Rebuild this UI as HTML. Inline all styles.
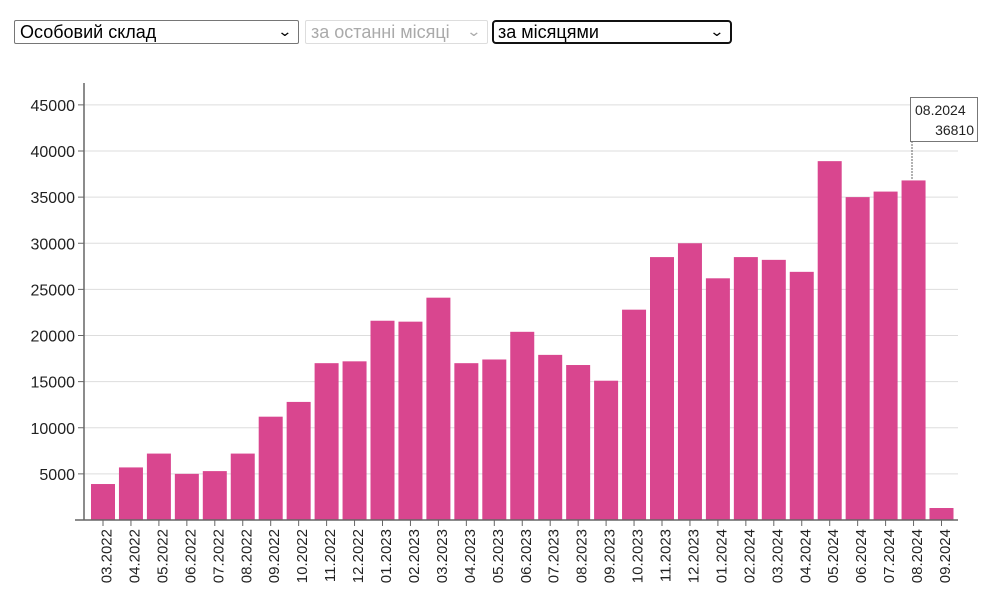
<!DOCTYPE html>
<html><head><meta charset="utf-8"><style>
body{margin:0;width:1000px;height:600px;background:#fff;font-family:"Liberation Sans",sans-serif;overflow:hidden;position:relative}
.sel{position:absolute;top:20px;height:24px;box-sizing:border-box;border:1px solid #767676;border-radius:2px;font-size:18px;line-height:22px;padding-left:5px;color:#000;background:#fff}
.sel span.a{position:absolute;right:7px;top:-1px;font-size:14px;transform:scaleX(1.3)}
</style></head><body>
<div class="sel" style="left:14px;width:285px">Особовий склад<span class="a">&#8964;</span></div>
<div class="sel" style="left:305px;width:183px;color:#aaa;border-color:#ddd">за останні місяці<span class="a">&#8964;</span></div>
<div class="sel" style="left:492px;width:240px;border:2px solid #111;border-radius:4px;line-height:20px;padding-left:4px">за місяцями<span class="a">&#8964;</span></div>
<svg width="1000" height="600" style="position:absolute;left:0;top:0" font-family="Liberation Sans, sans-serif">
<g id="g"></g>
</svg>
<script>
var v=[3900,5700,7200,5000,5300,7200,11200,12800,17000,17200,21600,21500,24100,17000,17400,20400,17900,16800,15100,22800,28500,30000,26200,28500,28200,26900,38900,35000,35600,36810,1300];
var lab=[];for(var i=0;i<31;i++){var m=(i+2)%12+1,y=2022+Math.floor((i+2)/12);lab.push((m<10?'0':'')+m+'.'+y);}
var s='',Y=function(x){return 520-x*369/40000;};
for(var k=1;k<=9;k++){var y=Y(k*5000);s+='<line x1="84" x2="958" y1="'+y+'" y2="'+y+'" stroke="#ddd"/>';s+='<line x1="78" x2="84" y1="'+y+'" y2="'+y+'" stroke="#666"/>';s+='<text x="75" y="'+(y+6)+'" font-size="16" text-anchor="end" fill="#222">'+k*5000+'</text>';}
for(var i=0;i<31;i++){var c=103+i*27.95,t=Y(v[i]);s+='<rect x="'+(c-12)+'" y="'+t+'" width="24" height="'+(520-t)+'" fill="#d9468f"/>';s+='<line x1="'+c+'" x2="'+c+'" y1="520" y2="526" stroke="#666"/>';s+='<text transform="translate('+(c+8.5)+',529) rotate(-90)" font-size="15" text-anchor="end" fill="#222">'+lab[i]+'</text>';}
s+='<line x1="84" x2="84" y1="83" y2="520" stroke="#666" stroke-width="1.5"/><line x1="75" x2="958" y1="520" y2="520" stroke="#666" stroke-width="1.5"/>';
s+='<line x1="912" x2="912" y1="141" y2="180" stroke="#666" stroke-dasharray="2,1"/><rect x="910.5" y="97.5" width="67" height="44" fill="#fff" stroke="#777"/><text x="915" y="115" font-size="14" fill="#222">08.2024</text><text x="974" y="135" font-size="14" text-anchor="end" fill="#222">36810</text>';
document.getElementById('g').innerHTML=s;
</script>
</body></html>
